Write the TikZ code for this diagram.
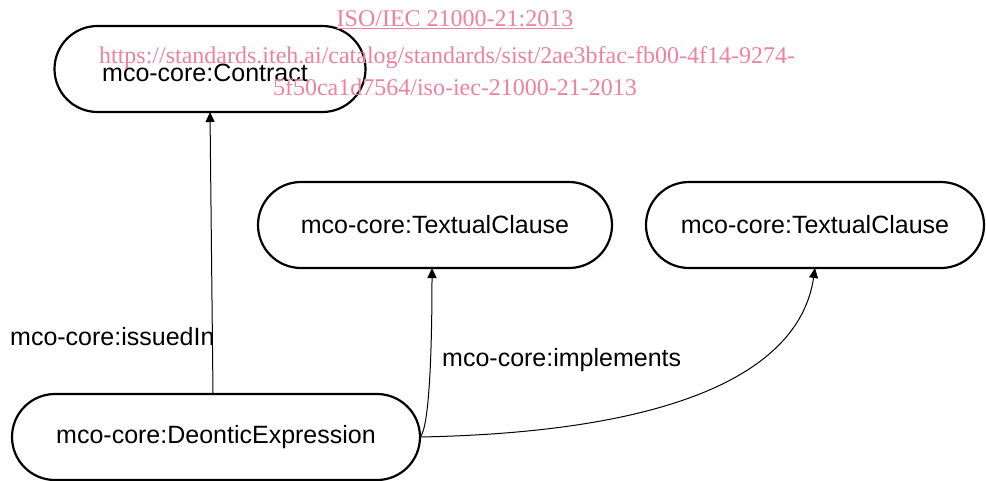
\documentclass[tikz,border=0pt]{standalone}
\usepackage{fontspec}
\setmainfont{Liberation Sans}
\newfontfamily\wmfont{Liberation Serif}
\usetikzlibrary{arrows.meta}
\definecolor{wm}{RGB}{236,130,160}
\begin{document}
\begin{tikzpicture}[x=1pt,y=-1pt,
  cls/.style={draw, line width=2.2pt, rounded corners=43pt, minimum height=86pt, inner sep=0pt, font=\fontsize{25}{29}\selectfont},
  rel/.style={line width=1pt, -{Triangle[length=10pt,width=9pt]}},
  lbl/.style={font=\fontsize{25}{29}\selectfont, inner sep=0pt, anchor=west},
  wmtext/.style={font=\wmfont\fontsize{24}{28}\selectfont, text=wm, inner sep=0pt}]
\useasboundingbox (0,0) rectangle (986,480);
\node[cls, minimum width=311pt] (contract) at (210,69) {};
\node[cls, minimum width=354pt] (tc1) at (435,225) {mco-core:TextualClause};
\node[cls, minimum width=338pt] (tc2) at (815,225) {mco-core:TextualClause};
\node[cls, minimum width=408pt] (de) at (216,437) {mco-core:DeonticExpression};
\node[font=\fontsize{25}{29}\selectfont, inner sep=0pt] (ctext) at (205,73) {mco-core:Contract};
\coordinate (deTop) at (213,394);
\coordinate (cBot) at (210,112);
\draw[rel] (deTop) -- (cBot);
\coordinate (deR) at (420,437);
\coordinate (tc1B) at (432,268);
\coordinate (tc2B) at (815,268);
\draw[rel] (deR) .. controls (430,428) and (432,340) .. (tc1B);
\draw[rel] (deR) .. controls (680,432) and (800,370) .. (tc2B);
\node[lbl] (l1) at (10,337) {mco-core:issuedIn};
\node[lbl] (l2) at (442,360) {mco-core:implements};
\node[wmtext] (w1) at (455,20) {\underline{ISO/IEC 21000-21:2013}};
\node[wmtext] (w2) at (447,58) {https://standards.iteh.ai/catalog/standards/sist/2ae3bfac-fb00-4f14-9274-};
\node[wmtext] (w3) at (455,87) {5f50ca1d7564/iso-iec-21000-21-2013};
\end{tikzpicture}
\end{document}
